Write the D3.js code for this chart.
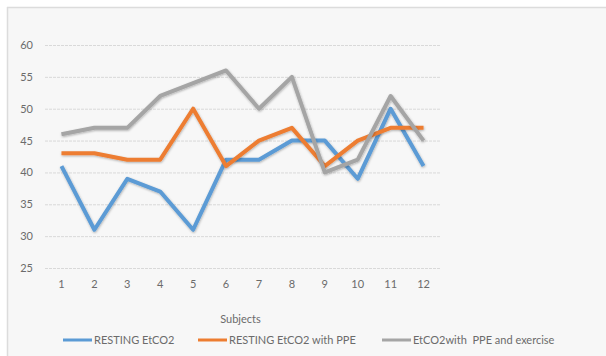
<!DOCTYPE html>
<html>
<head>
<meta charset="utf-8">
<script src="https://cdn.jsdelivr.net/npm/d3@7"></script>
<style>
  html, body { margin: 0; padding: 0; background: #ffffff; }
  svg { display: block; }
  text { font-family: Lato, "Open Sans", sans-serif; fill: #6b6b6b; white-space: pre; }
</style>
</head>
<body>
<div id="chart"></div>
<script>
// Subjects on the x axis
const subjects = ["1", "2", "3", "4", "5", "6", "7", "8", "9", "10", "11", "12"];
// End-tidal CO2 readings per subject
const restingEtco2 = [41, 31, 39, 37, 31, 42, 42, 45, 45, 39, 50, 41];
const restingEtco2Ppe = [43, 43, 42, 42, 50, 41, 45, 47, 41, 45, 47, 47];
const etco2PpeExercise = [46, 47, 47, 52, 54, 56, 50, 55, 40, 42, 52, 45];
const seriesNames = ["RESTING EtCO2", "RESTING EtCO2 with PPE", "EtCO2with  PPE and exercise"];
const seriesColors = ["#5b9bd5", "#ed7d31", "#a5a5a5"];
const yTicks = [25, 30, 35, 40, 45, 50, 55, 60];

const W = 606, H = 356;
const svg = d3.select("#chart").append("svg").attr("width", W).attr("height", H);

// chart area background and border
svg.append("rect").attr("x", 7).attr("y", 7).attr("width", W - 7).attr("height", H - 7)
  .attr("fill", "#f7f7f7");
svg.append("line").attr("x1", 7).attr("x2", W).attr("y1", 7.5).attr("y2", 7.5)
  .attr("stroke", "#dcdcdc").attr("stroke-width", 1.5);
svg.append("line").attr("x1", 7.5).attr("x2", 7.5).attr("y1", 7).attr("y2", H)
  .attr("stroke", "#dcdcdc").attr("stroke-width", 1.5);

const plot = { left: 45, right: 440, top: 45, bottom: 268 };

const x = d3.scaleBand().domain(subjects).range([plot.left, plot.right]);
const y = d3.scaleLinear().domain([25, 60]).range([plot.bottom, plot.top]);

// horizontal gridlines
const yAxis = d3.axisLeft(y).tickValues(yTicks).tickSize(-(plot.right - plot.left)).tickPadding(12);
const gy = svg.append("g").attr("transform", `translate(${plot.left},0)`).call(yAxis);
gy.select(".domain").remove();
gy.selectAll(".tick line").attr("stroke", "#d9d9d9").attr("stroke-width", 1)
  .attr("stroke-dasharray", "3,1");
gy.selectAll(".tick text").attr("font-size", 11).attr("fill", "#808080");

// category labels
const xAxis = d3.axisBottom(x).tickSize(0).tickPadding(12);
const gx = svg.append("g").attr("transform", `translate(0,${plot.bottom})`).call(xAxis);
gx.select(".domain").remove();
gx.selectAll(".tick text").attr("font-size", 11).attr("fill", "#808080");

svg.append("text").attr("x", x("7") - 2).attr("y", 323).attr("text-anchor", "middle")
  .attr("font-size", 11).attr("fill", "#7a7a7a").text("Subjects");

// soft shadow under the lines
const defs = svg.append("defs");
const f = defs.append("filter").attr("id", "shadow").attr("x", "-5%").attr("y", "-5%")
  .attr("width", "110%").attr("height", "120%");
f.append("feDropShadow").attr("dx", 0.5).attr("dy", 1).attr("stdDeviation", 0.8)
  .attr("flood-color", "#000").attr("flood-opacity", 0.3);

const line = d3.line()
  .x((d, i) => x(subjects[i]) + x.bandwidth() / 2)
  .y(d => y(d));

[restingEtco2, restingEtco2Ppe, etco2PpeExercise].forEach((vals, k) => {
  svg.append("path").datum(vals)
    .attr("d", line)
    .attr("fill", "none")
    .attr("stroke", seriesColors[k])
    .attr("stroke-width", 4)
    .attr("stroke-linejoin", "round")
    .attr("filter", "url(#shadow)");
});

// legend
const legendX = [63, 198, 382];
const legend = svg.append("g");
seriesNames.forEach((name, k) => {
  legend.append("line").attr("x1", legendX[k]).attr("x2", legendX[k] + 29)
    .attr("y1", 340).attr("y2", 340)
    .attr("stroke", seriesColors[k]).attr("stroke-width", 3);
  legend.append("text").attr("x", legendX[k] + 31).attr("y", 344)
    .attr("font-size", 11).attr("fill", "#707070").text(name);
});
</script>
</body>
</html>
